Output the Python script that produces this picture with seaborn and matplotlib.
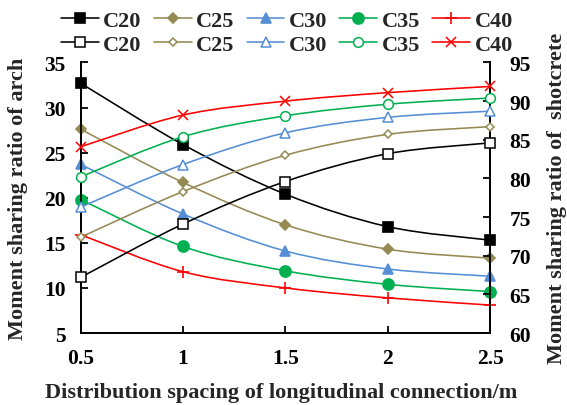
import numpy as np
import seaborn as sns
import matplotlib.pyplot as plt
from matplotlib.path import Path
from matplotlib.patches import PathPatch
from matplotlib.lines import Line2D

spacing = [0.5, 1.0, 1.5, 2.0, 2.5]
grades = ["C20", "C25", "C30", "C35", "C40"]

# arch share (left axis)
arch_c20 = [32.7, 25.9, 20.4, 16.8, 15.3]
arch_c25 = [27.6, 21.7, 17.0, 14.3, 13.3]
arch_c30 = [23.7, 18.2, 14.1, 12.1, 11.3]
arch_c35 = [19.8, 14.6, 11.9, 10.4, 9.6]
arch_c40 = [15.9, 11.8, 10.0, 8.9, 8.1]

# shotcrete share (right axis)
shot_c20 = [67.2, 74.1, 79.6, 83.2, 84.6]
shot_c25 = [72.4, 78.3, 83.0, 85.7, 86.7]
shot_c30 = [76.3, 81.8, 85.9, 87.9, 88.7]
shot_c35 = [80.2, 85.4, 88.1, 89.6, 90.4]
shot_c40 = [84.1, 88.2, 90.0, 91.1, 91.9]

left_ticks = [5, 10, 15, 20, 25, 30, 35]
right_ticks = [60, 65, 70, 75, 80, 85, 90, 95]
x_labels = ["0.5", "1", "1.5", "2", "2.5"]

colors = ["#000000", "#948A54", "#558ED5", "#00B050", "#FF0000"]
filled_marks = [("s", 7), ("D", 5), ("^", 7.5), ("o", 8), ("+", 9)]
open_marks = [("s", 7), ("D", 4.5), ("^", 7), ("o", 7), ("x", 7)]

arch = [arch_c20, arch_c25, arch_c30, arch_c35, arch_c40]
shot = [shot_c20, shot_c25, shot_c30, shot_c35, shot_c40]

sns.set_theme(style="ticks")
plt.rcParams["font.family"] = ["Liberation Serif", "DejaVu Serif"]
plt.rcParams["font.weight"] = "bold"


def smooth_path(xs, ys):
    # Excel-style smoothed line: cubic bezier through every point
    pts = np.column_stack([xs, ys]).astype(float)
    n = len(pts)
    verts = [pts[0]]
    codes = [Path.MOVETO]
    for i in range(n - 1):
        p0 = pts[max(i - 1, 0)]
        p1 = pts[i]
        p2 = pts[i + 1]
        p3 = pts[min(i + 2, n - 1)]
        verts += [p1 + (p2 - p0) / 6, p2 - (p3 - p1) / 6, p2]
        codes += [Path.CURVE4] * 3
    return Path(verts, codes)


fig = plt.figure(figsize=(5.67, 4.06), dpi=100)
ax = fig.add_axes([0.1423, 0.1773, 0.7219, 0.6663])
ax2 = ax.twinx()

lw = 1.15
for vals, c, (m, ms) in zip(arch, colors, filled_marks):
    ax.add_patch(PathPatch(smooth_path(spacing, vals), fill=False,
                           edgecolor=c, lw=lw, clip_on=False, zorder=2))
    sns.lineplot(x=spacing, y=vals, ax=ax, color=c, marker=m, markersize=ms,
                 markerfacecolor=c, markeredgecolor=c, markeredgewidth=1.2,
                 linestyle="none", clip_on=False, legend=False, zorder=3)

for vals, c, (m, ms) in zip(shot, colors, open_marks):
    ax2.add_patch(PathPatch(smooth_path(spacing, vals), fill=False,
                            edgecolor=c, lw=lw, clip_on=False, zorder=2))
    sns.lineplot(x=spacing, y=vals, ax=ax2, color=c, marker=m, markersize=ms,
                 markerfacecolor="white", markeredgecolor=c, markeredgewidth=1.1,
                 linestyle="none", clip_on=False, legend=False, zorder=3)

ax.set_xlim(0.5, 2.5)
ax.set_ylim(5, 35)
ax2.set_ylim(60, 95)
ax.set_xticks(spacing)
ax.set_xticklabels(x_labels)
ax.set_yticks(left_ticks)
ax2.set_yticks(right_ticks)

for a in (ax, ax2):
    a.spines["top"].set_visible(False)
    for s in ("left", "right", "bottom"):
        a.spines[s].set_linewidth(1.3)
        a.spines[s].set_color("black")

ax.tick_params(axis="both", direction="in", length=5, width=1.3,
               labelsize=15.5, colors="black")
ax.tick_params(axis="y", pad=11)
ax.tick_params(axis="x", pad=11)
ax2.tick_params(axis="y", direction="in", length=5, width=1.3,
                labelsize=15.5, pad=14, colors="black")
for lab in ax.get_xticklabels() + ax.get_yticklabels() + ax2.get_yticklabels():
    lab.set_fontweight("bold")

ax.set_xlabel("Distribution spacing of longitudinal connection/m",
              fontsize=16, fontweight="bold")
ax.set_ylabel("Moment sharing ratio of arch", fontsize=16, fontweight="bold")
ax2.set_ylabel("Moment sharing ratio of  shotcrete", fontsize=16, fontweight="bold")
ax.xaxis.set_label_coords(0.49, -0.18)
ax.yaxis.set_label_coords(-0.129, 0.5)
ax2.yaxis.set_label_coords(1.14, 0.5)

handles = []
labels = []
for g, c, (fm, fms), (om, oms) in zip(grades, colors, filled_marks, open_marks):
    handles.append(Line2D([], [], color=c, lw=lw, marker=fm, markersize=fms,
                          markerfacecolor=c, markeredgecolor=c, markeredgewidth=1.2))
    labels.append(g)
    handles.append(Line2D([], [], color=c, lw=lw, marker=om, markersize=oms,
                          markerfacecolor="white", markeredgecolor=c,
                          markeredgewidth=1.1))
    labels.append(g)

fig.legend(handles, labels, ncol=5, loc="center", bbox_to_anchor=(0.506, 0.917),
           frameon=False, fontsize=16, handlelength=1.7, handletextpad=0.2,
           columnspacing=0.55, labelspacing=0.15, borderpad=0.1)

fig.savefig("out.png", dpi=100)
